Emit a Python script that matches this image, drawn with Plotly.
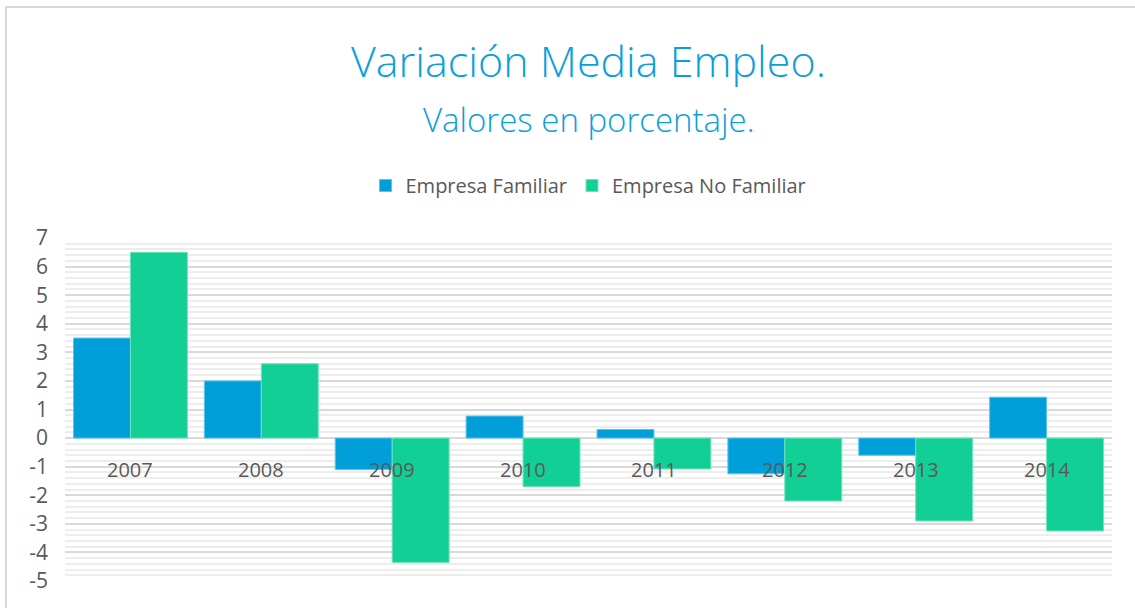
import plotly.graph_objects as go

years = ['2007', '2008', '2009', '2010', '2011', '2012', '2013', '2014']
familiar = [3.5, 2.0, -1.1, 0.77, 0.3, -1.25, -0.6, 1.43]
no_familiar = [6.5, 2.6, -4.35, -1.7, -1.08, -2.2, -2.9, -3.25]
y_ticks = list(range(-5, 8))

BLUE = '#009FD9'
GREEN = '#12CF96'
TEXT = '#595959'
FONT = 'Open Sans'

fig = go.Figure()
fig.add_trace(go.Bar(x=years, y=familiar, name='Empresa Familiar',
                     marker=dict(color=BLUE, line=dict(color='#5CC3EA', width=1))))
fig.add_trace(go.Bar(x=years, y=no_familiar, name='Empresa No Familiar',
                     marker=dict(color=GREEN, line=dict(color='#6FE3BE', width=1))))

# category labels sit just under the zero line, like in the original
# (x given as the category index so plotly doesn't read '2007' as a number)
for i, yr in enumerate(years):
    fig.add_annotation(x=i, y=0, xref='x', yref='y', text=yr, showarrow=False,
                       yanchor='top', yshift=-16, font=dict(size=20, color=TEXT, family=FONT))

fig.add_annotation(x=0.5, y=1.0, xref='paper', yref='paper', text='Variación Media Empleo.',
                   showarrow=False, yanchor='bottom', yshift=146,
                   font=dict(size=43, color='#0A9FDB', family=FONT, weight=300))
fig.add_annotation(x=0.5, y=1.0, xref='paper', yref='paper', text='Valores en porcentaje.',
                   showarrow=False, yanchor='bottom', yshift=94,
                   font=dict(size=33, color='#0A9FDB', family=FONT, weight=300))

fig.update_layout(
    width=1135, height=608,
    margin=dict(l=65, r=23, t=238, b=27),
    paper_bgcolor='white', plot_bgcolor='white',
    barmode='group', bargap=0.13, bargroupgap=0,
    font=dict(family=FONT, color=TEXT, size=18),
    showlegend=True,
    legend=dict(orientation='h', x=0.5, xanchor='center', y=1 + 33 / 343, yanchor='bottom',
                font=dict(size=20, color=TEXT), bgcolor='rgba(0,0,0,0)'),
    xaxis=dict(type='category', categoryorder='array', categoryarray=years,
               range=[-0.5, len(years) - 0.5],
               showticklabels=False, showgrid=False, zeroline=False,
               showline=False, ticks=''),
    yaxis=dict(range=[-5, 7], tickvals=y_ticks, ticktext=[str(v) for v in y_ticks],
               showgrid=True, gridcolor='#D9D9D9', gridwidth=1.5,
               zeroline=True, zerolinecolor='#D9D9D9', zerolinewidth=1.5,
               minor=dict(dtick=0.2, showgrid=True, gridcolor='#EDEDED', gridwidth=1.5),
               tickfont=dict(size=21, color=TEXT), ticks='', ticklabelstandoff=16),
)

# outer chart border
fig.add_shape(type='rect', xref='paper', yref='paper',
              x0=(6 - 65) / 1047, x1=1.08, y0=-0.2, y1=(581 - 7) / 343,
              line=dict(color='#D9D9D9', width=2), layer='below')

# drop the default 8px page margin so the figure sits at the window corner
fig.write_html('out.html', config={'displayModeBar': False},
               post_script="document.body.style.margin='0';")
